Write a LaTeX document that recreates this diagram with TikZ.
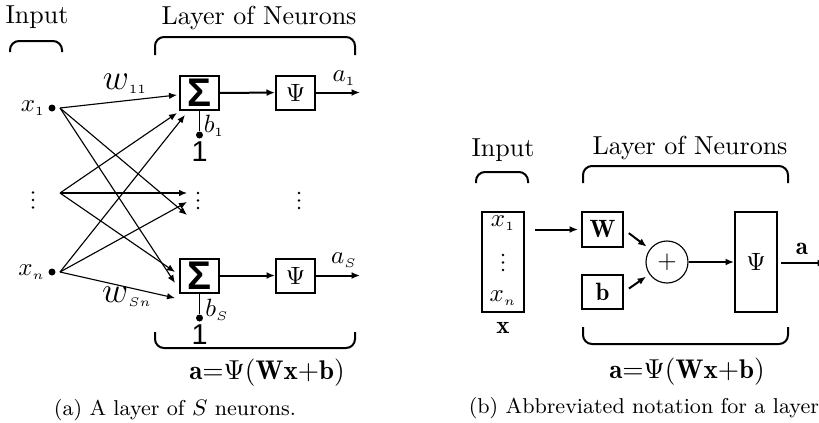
\documentclass[tikz,border=0pt]{standalone}
\usepackage{fontspec}
\usepackage{amsmath}
\usepackage{tikz}
\usetikzlibrary{arrows.meta}
\newfontfamily\helv{Liberation Sans}
\newcommand\px{0.4pt}
\newcommand\sumSign{{\helv\fontsize{16}{16}\selectfont\bfseries Σ}}
\newcommand\oneSign{{\helv\fontsize{11.5}{12}\selectfont 1}}
\newcommand{\layerBrace}[4]{
    \draw[brace] (#1,#3) -- (#1,#4) -- (#2,#4) -- (#2,#3);
}
\newcommand{\colDots}[2]{
    \foreach \dy in {-7.5,0,7.5}
        \fill (#1,{#2+\dy}) circle (1.3*\px);
}
\tikzset{
    box/.style={draw, line width=0.8pt, inner sep=0pt, minimum width=39*\px, minimum height=34*\px},
    dot/.style={circle, fill, inner sep=0pt, minimum size=7*\px},
    wire/.style={line width=0.45pt, -{Latex[length=3.2pt,width=2.6pt]}},
    flow/.style={line width=0.8pt, -{Latex[length=3.4pt,width=2.8pt]}},
    brace/.style={line width=0.8pt, rounded corners=3.6pt},
    heading/.style={font=\fontsize{10.4}{12}\selectfont},
    formula/.style={font=\fontsize{10.8}{12}\selectfont},
    caption/.style={font=\fontsize{8.6}{10}\selectfont}
}

\begin{document}
\begin{tikzpicture}[x=\px, y=-\px]
    \useasboundingbox (0,0) rectangle (819,422);

    \begin{scope}
        \node[heading] (inputA) at (37,17) {Input};
        \node[heading] (layerA) at (259,18) {Layer of Neurons};
        \layerBrace{10}{62}{52}{41}
        \layerBrace{155}{355}{55}{37}

        \node[dot] (x1) at (52,108) {};
        \node[dot] (xn) at (52,272) {};
        \node[left, inner sep=1pt] at (x1.west) {$x_{\scriptscriptstyle 1}$};
        \node[left, inner sep=1pt] at (xn.west) {$x_{\scriptscriptstyle n}$};
        \colDots{33}{200}
        \coordinate (s1) at (60,108);
        \coordinate (sm) at (60,193);
        \coordinate (sn) at (60,272);

        \node[box] (sum1) at (199.5,93) {\sumSign};
        \node[box] (psi1) at (295.5,92.5) {$\Psi$};
        \node[box] (sumS) at (199.5,275.5) {\sumSign};
        \node[box] (psiS) at (295.5,275.5) {$\Psi$};
        \colDots{198}{200.5}
        \colDots{299}{200.5}

        \coordinate (t11) at (177,95);
        \coordinate (tm1) at (177,113);
        \coordinate (tn1) at (185,115);
        \coordinate (t1m) at (187,215);
        \coordinate (tmm) at (187,193);
        \coordinate (tnm) at (187,202);
        \coordinate (t1S) at (175,283);
        \coordinate (tmS) at (175,272);
        \coordinate (tnS) at (175,298);
        \foreach \from/\to in {s1/t11, sm/tm1, sn/tn1, s1/t1m, sm/tmm, sn/tnm, s1/t1S, sm/tmS, sn/tnS}
            \draw[wire] (\from) -- (\to);
        \node at (125,84) {{\Large$w$}$_{\scriptscriptstyle 11}$};
        \node at (127,297) {{\Large$w$}$_{\scriptscriptstyle Sn}$};

        \draw[flow] (sum1) -- (psi1);
        \draw[flow] (sumS) -- (psiS);
        \coordinate (out1) at (360,92.5);
        \coordinate (outS) at (360,275.5);
        \draw[flow] (psi1) -- (out1);
        \draw[flow] (psiS) -- (outS);
        \node at (344,78) {$a_{\scriptscriptstyle 1}$};
        \node at (344,260) {$a_{\scriptscriptstyle S}$};

        \node[dot] (bias1) at (199.5,135) {};
        \node[dot] (biasS) at (199.5,318) {};
        \draw[line width=0.45pt] (sum1) -- (bias1);
        \draw[line width=0.45pt] (sumS) -- (biasS);
        \node at (214,126) {$b_{\scriptscriptstyle 1}$};
        \node at (217,310) {$b_{\scriptscriptstyle S}$};
        \node (one1) at (199.5,152) {\oneSign};
        \node (oneS) at (199.5,335) {\oneSign};

        \layerBrace{155}{355}{332}{348}
        \node[formula] (eqA) at (267,373) {$\mathbf{a}{=}\Psi\mathbf{(Wx}{+}\mathbf{b)}$};
        \node[caption] (capA) at (175,410) {(a) A layer of $S$ neurons.};
    \end{scope}

    \begin{scope}[shift={(460,0)}]
        \node[heading] (inputB) at (43,150) {Input};
        \node[heading] (layerB) at (230,148) {Layer of Neurons};
        \layerBrace{16}{68}{183}{172}
        \layerBrace{123}{328}{183}{166}

        \node[box, minimum width=42*\px, minimum height=100*\px] (xvec) at (43,262) {};
        \node (xfirst) at (43,223) {$x_{\scriptscriptstyle 1}$};
        \colDots{43}{262.5}
        \node (xlast) at (43,298) {$x_{\scriptscriptstyle n}$};
        \node (xname) at (43,328) {$\mathbf{x}$};

        \node[box, minimum width=41*\px, minimum height=35*\px] (wbox) at (142.5,229.5) {$\mathbf{W}$};
        \node[box, minimum width=41*\px, minimum height=34*\px] (bbox) at (142.5,292) {$\mathbf{b}$};
        \node[draw, circle, line width=0.45pt, inner sep=0pt, minimum size=42*\px] (plus) at (207,262) {$+$};
        \node[box, minimum width=42*\px, minimum height=100*\px] (psi) at (296,262) {$\Psi$};

        \draw[flow, shorten <=4pt, shorten >=1.2pt] (xvec.east |- wbox.west) -- (wbox.west);
        \draw[flow, shorten <=2.4pt, shorten >=1.6pt] (wbox.east) -- (plus);
        \draw[flow, shorten <=2.4pt, shorten >=1.6pt] (bbox.east) -- (plus);
        \draw[flow] (plus) -- (psi);
        \coordinate (aout) at (366,263);
        \draw[flow, shorten <=1.2pt] (psi.east |- aout) -- (aout);
        \node (aname) at (342,249) {$\mathbf{a}$};

        \layerBrace{123}{328}{327}{344}
        \node[formula] (eqB) at (227,372) {$\mathbf{a}{=}\Psi\mathbf{(Wx}{+}\mathbf{b)}$};
        \node[caption, anchor=west] (capB) at (0,408) {(b) Abbreviated notation for a layer};
    \end{scope}
\end{tikzpicture}
\end{document}
